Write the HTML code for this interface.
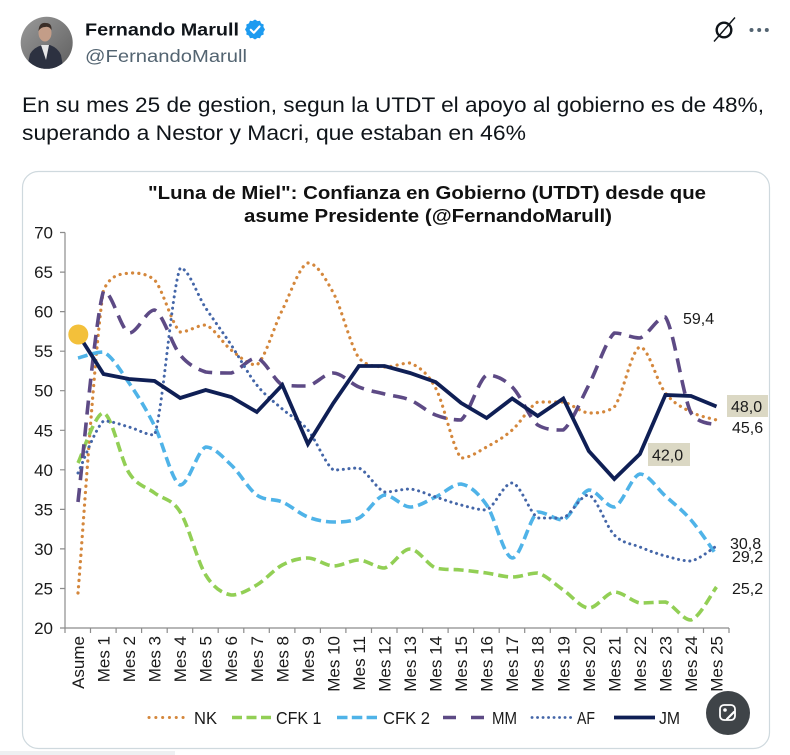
<!DOCTYPE html>
<html><head><meta charset="utf-8"><style>html,body{margin:0;padding:0;background:#fff;}svg{display:block;}</style></head>
<body>
<svg width="790" height="755" viewBox="0 0 790 755" xmlns="http://www.w3.org/2000/svg" font-family="'Liberation Sans', Arial, sans-serif">
<defs>
<clipPath id="av"><circle cx="46.7" cy="42.8" r="26"/></clipPath>
<linearGradient id="avg" x1="0" y1="0" x2="1" y2="1"><stop offset="0" stop-color="#9a9a9a"/><stop offset="1" stop-color="#5e5e5e"/></linearGradient>
</defs>
<rect x="0" y="0" width="790" height="755" fill="#fff"/>
<!-- header -->
<g clip-path="url(#av)">
<rect x="20" y="16" width="54" height="54" fill="url(#avg)"/>
<path d="M26 72 L30 54 Q34 47 43 45 L50 45 Q58 48 61 55 L64 72 Z" fill="#2c3140"/>
<path d="M41 45 L49 45 L46 60 Z" fill="#e6e6e6"/>
<ellipse cx="45" cy="33" rx="6.5" ry="8.5" fill="#c39d88"/>
<path d="M38.5 31 Q39 22 46 23 Q52 23 51.5 30 Q49 26 45 27 Q41 27 38.5 31 Z" fill="#3a2e28"/>
</g>
<text x="85" y="35.7" font-size="17.5" font-weight="bold" fill="#0f1419" textLength="154" lengthAdjust="spacingAndGlyphs">Fernando Marull</text>
<g transform="translate(255,29.5)">
<polygon points="0,-10 2.6,-8.4 5,-8.7 6.1,-6.1 8.7,-5 8.4,-2.6 10,0 8.4,2.6 8.7,5 6.1,6.1 5,8.7 2.6,8.4 0,10 -2.6,8.4 -5,8.7 -6.1,6.1 -8.7,5 -8.4,2.6 -10,0 -8.4,-2.6 -8.7,-5 -6.1,-6.1 -5,-8.7 -2.6,-8.4" fill="#1d9bf0"/>
<path d="M-4.2 0.3 L-1.2 3.3 L4.5 -3" stroke="#fff" stroke-width="2.1" fill="none" stroke-linecap="round" stroke-linejoin="round"/>
</g>
<text x="85" y="62" font-size="17.5" fill="#536471" textLength="162" lengthAdjust="spacingAndGlyphs">@FernandoMarull</text>
<circle cx="724" cy="30" r="7.3" fill="none" stroke="#0f1419" stroke-width="2.4"/>
<line x1="714" y1="41.5" x2="735" y2="17.5" stroke="#0f1419" stroke-width="1.4"/>
<circle cx="751.5" cy="30" r="2" fill="#536471"/>
<circle cx="759.2" cy="30" r="2" fill="#536471"/>
<circle cx="766.8" cy="30" r="2" fill="#536471"/>
<text x="22" y="112" font-size="21" fill="#0f1419" textLength="742" lengthAdjust="spacingAndGlyphs">En su mes 25 de gestion, segun la UTDT el apoyo al gobierno es de 48%,</text>
<text x="22" y="140" font-size="21" fill="#0f1419" textLength="504" lengthAdjust="spacingAndGlyphs">superando a Nestor y Macri, que estaban en 46%</text>

<!-- card -->
<rect x="0" y="751" width="175" height="4" fill="#eef0f2"/>
<rect x="22.5" y="171.5" width="747" height="577" rx="16" ry="16" fill="#fff" stroke="#cfd9de" stroke-width="1.2"/>

<!-- title -->
<text x="427" y="199" font-size="18.5" font-weight="bold" fill="#111" text-anchor="middle" textLength="558" lengthAdjust="spacingAndGlyphs">"Luna de Miel": Confianza en Gobierno (UTDT) desde que</text>
<text x="428" y="222" font-size="18.5" font-weight="bold" fill="#111" text-anchor="middle" textLength="368" lengthAdjust="spacingAndGlyphs">asume Presidente (@FernandoMarull)</text>

<!-- axes -->
<g stroke="#8c8c8c" stroke-width="1.2" fill="none">
<line x1="65" y1="232.5" x2="65" y2="628"/>
<line x1="65" y1="628" x2="729" y2="628"/>
<path d="M60 232.5H65M60 272.1H65M60 311.6H65M60 351.2H65M60 390.7H65M60 430.3H65M60 469.8H65M60 509.4H65M60 548.9H65M60 588.5H65M60 628H65"/>
<path d="M65 628V633M90.5 628V633M116.1 628V633M141.6 628V633M167.2 628V633M192.7 628V633M218.2 628V633M243.8 628V633M269.3 628V633M294.9 628V633M320.4 628V633M345.9 628V633M371.5 628V633M397 628V633M422.6 628V633M448.1 628V633M473.6 628V633M499.2 628V633M524.7 628V633M550.3 628V633M575.8 628V633M601.3 628V633M626.9 628V633M652.4 628V633M678 628V633M703.5 628V633M729 628V633"/>
</g>
<g font-size="17" fill="#1a1a1a" text-anchor="end">
<text x="53" y="238.5">70</text>
<text x="53" y="278.1">65</text>
<text x="53" y="317.6">60</text>
<text x="53" y="357.2">55</text>
<text x="53" y="396.7">50</text>
<text x="53" y="436.3">45</text>
<text x="53" y="475.8">40</text>
<text x="53" y="515.4">35</text>
<text x="53" y="554.9">30</text>
<text x="53" y="594.5">25</text>
<text x="53" y="634">20</text>
</g>
<g font-size="17" fill="#1a1a1a" text-anchor="end">
<text transform="translate(84,636) rotate(-90)">Asume</text>
<text transform="translate(109.5,636) rotate(-90)">Mes 1</text>
<text transform="translate(135.1,636) rotate(-90)">Mes 2</text>
<text transform="translate(160.6,636) rotate(-90)">Mes 3</text>
<text transform="translate(186.2,636) rotate(-90)">Mes 4</text>
<text transform="translate(211.7,636) rotate(-90)">Mes 5</text>
<text transform="translate(237.2,636) rotate(-90)">Mes 6</text>
<text transform="translate(262.8,636) rotate(-90)">Mes 7</text>
<text transform="translate(288.3,636) rotate(-90)">Mes 8</text>
<text transform="translate(313.9,636) rotate(-90)">Mes 9</text>
<text transform="translate(339.4,636) rotate(-90)">Mes 10</text>
<text transform="translate(364.9,636) rotate(-90)">Mes 11</text>
<text transform="translate(390.5,636) rotate(-90)">Mes 12</text>
<text transform="translate(416,636) rotate(-90)">Mes 13</text>
<text transform="translate(441.6,636) rotate(-90)">Mes 14</text>
<text transform="translate(467.1,636) rotate(-90)">Mes 15</text>
<text transform="translate(492.6,636) rotate(-90)">Mes 16</text>
<text transform="translate(518.2,636) rotate(-90)">Mes 17</text>
<text transform="translate(543.7,636) rotate(-90)">Mes 18</text>
<text transform="translate(569.3,636) rotate(-90)">Mes 19</text>
<text transform="translate(594.8,636) rotate(-90)">Mes 20</text>
<text transform="translate(620.3,636) rotate(-90)">Mes 21</text>
<text transform="translate(645.9,636) rotate(-90)">Mes 22</text>
<text transform="translate(671.4,636) rotate(-90)">Mes 23</text>
<text transform="translate(697,636) rotate(-90)">Mes 24</text>
<text transform="translate(722.5,636) rotate(-90)">Mes 25</text>
</g>

<!-- series -->
<polyline class="s" fill="none" stroke="#d4873c" stroke-width="3.2" stroke-linecap="round" stroke-linejoin="round" stroke-dasharray="0.1 6.2" points="78,593 103.5,290 129.1,273 154.6,280 180.2,332 205.7,325 231.2,350 256.8,365 282.3,310 307.9,263 333.4,293 358.9,358 384.5,367 410,363 435.6,388 461.1,458 486.6,447 512.2,430 537.7,402 563.3,402 588.8,413 614.3,407 639.9,347 665.4,393 691,412 716.5,420"/>
<polyline class="s" fill="none" stroke="#92cf55" stroke-width="3.6" stroke-linejoin="round" stroke-dasharray="10 5" points="78,463 103.5,413 129.1,473 154.6,493 180.2,512 205.7,575 231.2,595 256.8,585 282.3,565 307.9,558 333.4,566 358.9,560 384.5,568 410,549 435.6,568 461.1,570 486.6,573 512.2,577 537.7,573 563.3,590 588.8,608 614.3,592 639.9,603 665.4,602 691,620 716.5,587"/>
<polyline class="s" fill="none" stroke="#4fb3e8" stroke-width="3.6" stroke-linejoin="round" stroke-dasharray="10 5" points="78,358 103.5,352 129.1,383 154.6,426 180.2,485 205.7,447 231.2,465 256.8,495 282.3,502 307.9,517 333.4,522 358.9,518 384.5,495 410,507 435.6,497 461.1,484 486.6,505 512.2,558 537.7,512 563.3,520 588.8,490 614.3,507 639.9,474 665.4,496 691,520 716.5,555"/>
<polyline class="s" fill="none" stroke="#5d4a85" stroke-width="3.6" stroke-linejoin="round" stroke-dasharray="14 8" points="78,502 103.5,291 129.1,333 154.6,310 180.2,355 205.7,372 231.2,373 256.8,358 282.3,385 307.9,386 333.4,373 358.9,387 384.5,394 410,400 435.6,415 461.1,420 486.6,375 512.2,387 537.7,425 563.3,430 588.8,385 614.3,333 639.9,338 665.4,317 691,413 716.5,425"/>
<polyline class="s" fill="none" stroke="#4466a8" stroke-width="3" stroke-linecap="round" stroke-linejoin="round" stroke-dasharray="0.1 5.6" points="78,473 103.5,421 129.1,427 154.6,435 180.2,268 205.7,308 231.2,345 256.8,385 282.3,409 307.9,430 333.4,470 358.9,468 384.5,492 410,489 435.6,497 461.1,505 486.6,510 512.2,483 537.7,518 563.3,518 588.8,495 614.3,535 639.9,547 665.4,556 691,561 716.5,546"/>
<polyline fill="none" stroke="#0f1f55" stroke-width="3.8" stroke-linejoin="miter" stroke-miterlimit="10" points="78,334 103.5,374 129.1,379 154.6,381 180.2,398 205.7,390 231.2,397 256.8,412 282.3,385 307.9,444 333.4,403 358.9,366 384.5,366 410,373 435.6,382 461.1,403 486.6,418 512.2,398.5 537.7,416 563.3,398.5 588.8,451 614.3,479 639.9,454 665.4,395 691,396 716.5,406.5"/>
<circle cx="78.3" cy="334.5" r="10" fill="#f3c03a"/>

<!-- data labels -->
<g font-size="16" fill="#1a1a1a">
<text x="683" y="324">59,4</text>
<rect x="727" y="395" width="41" height="22" fill="#dbd8c4"/>
<text x="731" y="412">48,0</text>
<text x="732" y="433">45,6</text>
<rect x="648" y="443" width="42" height="23" fill="#dbd8c4"/>
<text x="652" y="460.5">42,0</text>
<text x="730" y="549">30,8</text>
<text x="732" y="562">29,2</text>
<text x="732" y="594">25,2</text>
</g>

<!-- legend -->
<g fill="none">
<line x1="149" y1="717.5" x2="189" y2="717.5" stroke="#d4873c" stroke-width="3" stroke-linecap="round" stroke-dasharray="0.1 6.7"/>
<line x1="232" y1="717.5" x2="271" y2="717.5" stroke="#92cf55" stroke-width="3.6" stroke-dasharray="10 4.5"/>
<line x1="337" y1="717.5" x2="377" y2="717.5" stroke="#4fb3e8" stroke-width="3.6" stroke-dasharray="10.5 4.3"/>
<line x1="443" y1="717.5" x2="485" y2="717.5" stroke="#5d4a85" stroke-width="3.6" stroke-dasharray="13 15"/>
<line x1="532" y1="717.5" x2="572" y2="717.5" stroke="#4466a8" stroke-width="2.8" stroke-linecap="round" stroke-dasharray="0.1 5.4"/>
<line x1="614" y1="717.5" x2="655" y2="717.5" stroke="#0f1f55" stroke-width="3.8"/>
</g>
<g font-size="17.5" fill="#1a1a1a">
<text x="194" y="724" textLength="23" lengthAdjust="spacingAndGlyphs">NK</text>
<text x="276" y="724" textLength="45.5" lengthAdjust="spacingAndGlyphs">CFK 1</text>
<text x="383" y="724" textLength="47" lengthAdjust="spacingAndGlyphs">CFK 2</text>
<text x="492" y="724" textLength="25" lengthAdjust="spacingAndGlyphs">MM</text>
<text x="577" y="724" textLength="18" lengthAdjust="spacingAndGlyphs">AF</text>
<text x="659" y="724" textLength="21" lengthAdjust="spacingAndGlyphs">JM</text>
</g>

<!-- floating button -->
<circle cx="728" cy="713" r="22" fill="#3f4448"/>
<rect x="720" y="705" width="15" height="15" rx="4" fill="none" stroke="#fff" stroke-width="1.8"/>
<circle cx="725" cy="710" r="1.8" fill="#fff"/>
<path d="M727 719 L734 712" stroke="#fff" stroke-width="2.2" stroke-linecap="round"/>
</svg>
<script>
(function(){
var NS='http://www.w3.org/2000/svg';
var pls=document.querySelectorAll('polyline.s');
for(var k=0;k<pls.length;k++){
 var pl=pls[k];
 var raw=pl.getAttribute('points').trim().split(/\s+/);
 var pts=[];
 for(var j=0;j<raw.length;j++){var a=raw[j].split(',');pts.push([+a[0],+a[1]]);}
 var d='M'+pts[0][0]+','+pts[0][1];
 for(var i=0;i<pts.length-1;i++){
  var p0=pts[i>0?i-1:i],p1=pts[i],p2=pts[i+1],p3=pts[i+2<pts.length?i+2:i+1];
  var c1x=p1[0]+(p2[0]-p0[0])/6,c1y=p1[1]+(p2[1]-p0[1])/6;
  var c2x=p2[0]-(p3[0]-p1[0])/6,c2y=p2[1]-(p3[1]-p1[1])/6;
  var lo=Math.min(p1[1],p2[1]),hi=Math.max(p1[1],p2[1]);
  c1y=Math.max(lo,Math.min(hi,c1y));c2y=Math.max(lo,Math.min(hi,c2y));
  d+=' C'+c1x.toFixed(2)+','+c1y.toFixed(2)+' '+c2x.toFixed(2)+','+c2y.toFixed(2)+' '+p2[0]+','+p2[1];
 }
 var path=document.createElementNS(NS,'path');
 var at=['fill','stroke','stroke-width','stroke-linecap','stroke-linejoin','stroke-dasharray'];
 for(var m=0;m<at.length;m++){var v=pl.getAttribute(at[m]);if(v!==null)path.setAttribute(at[m],v);}
 path.setAttribute('d',d);
 pl.parentNode.replaceChild(path,pl);
}
})();
</script>
</body></html>
